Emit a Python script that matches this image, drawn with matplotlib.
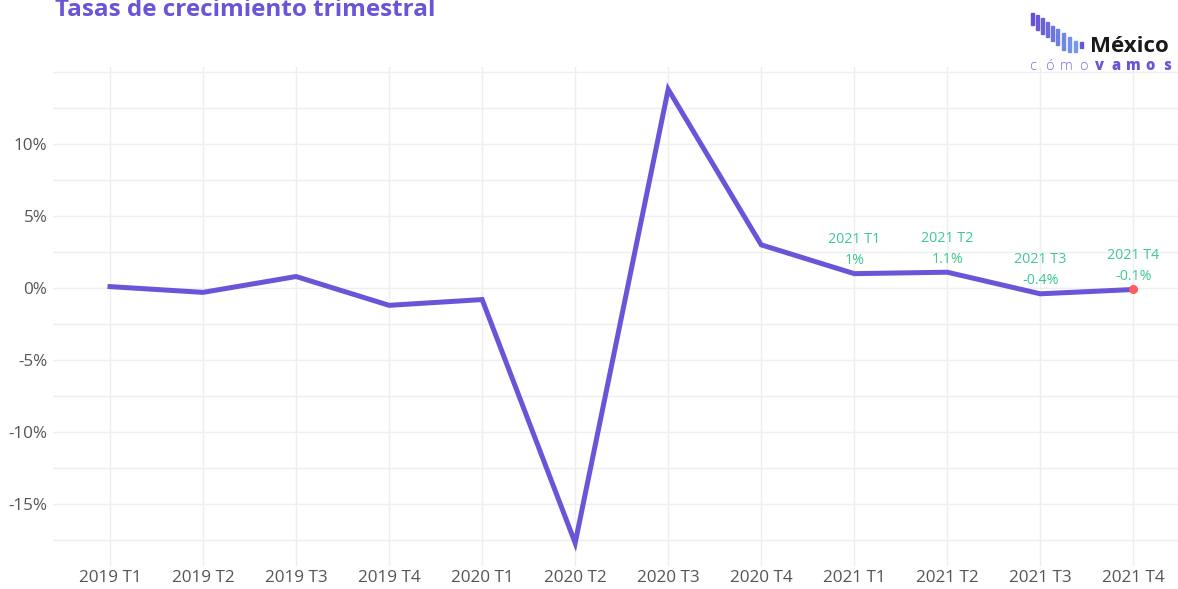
import matplotlib
matplotlib.use("Agg")
import matplotlib.pyplot as plt
from matplotlib.patches import Rectangle
import numpy as np

categories = ["2019 T1", "2019 T2", "2019 T3", "2019 T4", "2020 T1", "2020 T2",
              "2020 T3", "2020 T4", "2021 T1", "2021 T2", "2021 T3", "2021 T4"]
growth = [0.1, -0.3, 0.8, -1.2, -0.8, -17.7, 13.8, 3.0, 1.0, 1.1, -0.4, -0.1]
annot_labels = ["1%", "1.1%", "-0.4%", "-0.1%"]
annot_start = 8
y_ticks = [-15, -10, -5, 0, 5, 10]
y_ticks_minor = [-17.5, -12.5, -7.5, -2.5, 2.5, 7.5, 12.5, 15]
y_tick_labels = ["-15%", "-10%", "-5%", "0%", "5%", "10%"]

PURPLE = "#6a55d8"
GREEN = "#3ec88f"
GRID = "#eeeeee"
TICK = "#555555"
FONT = "Open Sans"

fig = plt.figure(figsize=(11.78, 5.89), dpi=100)
ax = fig.add_axes([53/1178, 1-566/589, 1-53/1178, (566-66.7)/589])

x = np.arange(len(categories))
ax.plot(x, growth, color=PURPLE, lw=3.6, solid_joinstyle="miter", zorder=3)
ax.plot(x[-1], growth[-1], "o", color="#ff5c5c", ms=5.5, zorder=4)

for i, lab in enumerate(annot_labels):
    k = annot_start + i
    ax.annotate(f"{categories[k]}\n{lab}", (x[k], growth[k]), xytext=(0, 4),
                textcoords="offset points", ha="center", va="bottom",
                color=GREEN, fontsize=10.3, family=FONT, linespacing=1.55)

ax.set_xlim(-0.613, 11.48)
ax.set_ylim(-19.3, 15.37)
ax.set_xticks(x)
ax.set_xticklabels(categories)
ax.set_yticks(y_ticks)
ax.set_yticklabels(y_tick_labels)
ax.set_yticks(y_ticks_minor, minor=True)
ax.tick_params(axis="both", which="both", length=0, labelsize=12.3, labelcolor=TICK)
ax.tick_params(axis="x", pad=3)
ax.tick_params(axis="y", pad=4)
for lbl in ax.get_xticklabels() + ax.get_yticklabels():
    lbl.set_family(FONT)
ax.grid(True, which="both", color=GRID, lw=1)
ax.set_axisbelow(True)
for s in ax.spines.values():
    s.set_visible(False)

fig.text(55/1178, 1-10/589, "Tasas de crecimiento trimestral", color=PURPLE,
         fontsize=17.5, fontweight="bold", family=FONT, va="center", ha="left")

# logo
bars = [(1031, 13, 25), (1036, 15, 30), (1041, 18, 34), (1046, 22, 37),
        (1051, 26, 41), (1056, 29, 45), (1062, 33, 50), (1068, 37, 52),
        (1074, 41, 52), (1080, 42, 48)]
cols = ["#6a4fd6", "#6b57d8", "#6c60da", "#6d6adc", "#6e74df", "#6f7ee1",
        "#7088e3", "#7192e6", "#729ce8", "#6a55d8"]
for (bx, y0, y1), c in zip(bars, cols):
    fig.patches.append(Rectangle((bx/1178, 1-y1/589), 3/1178, (y1-y0)/589,
                                 transform=fig.transFigure, color=c))
fig.text(1129/1178, 1-46/589, "México", color="#1a1a1a", fontsize=16,
         fontweight="bold", family=FONT, ha="center", va="center")
chars = list("cómovamos")
for j, ch in enumerate(chars):
    bold = j >= 4
    fig.text((1033 + j*16.7)/1178, 1-66/589, ch, color=PURPLE if bold else "#7d6fdd",
             fontsize=10.5, fontweight="heavy" if bold else "light", family=FONT,
             ha="center", va="center")

fig.savefig("out.png", dpi=100)
